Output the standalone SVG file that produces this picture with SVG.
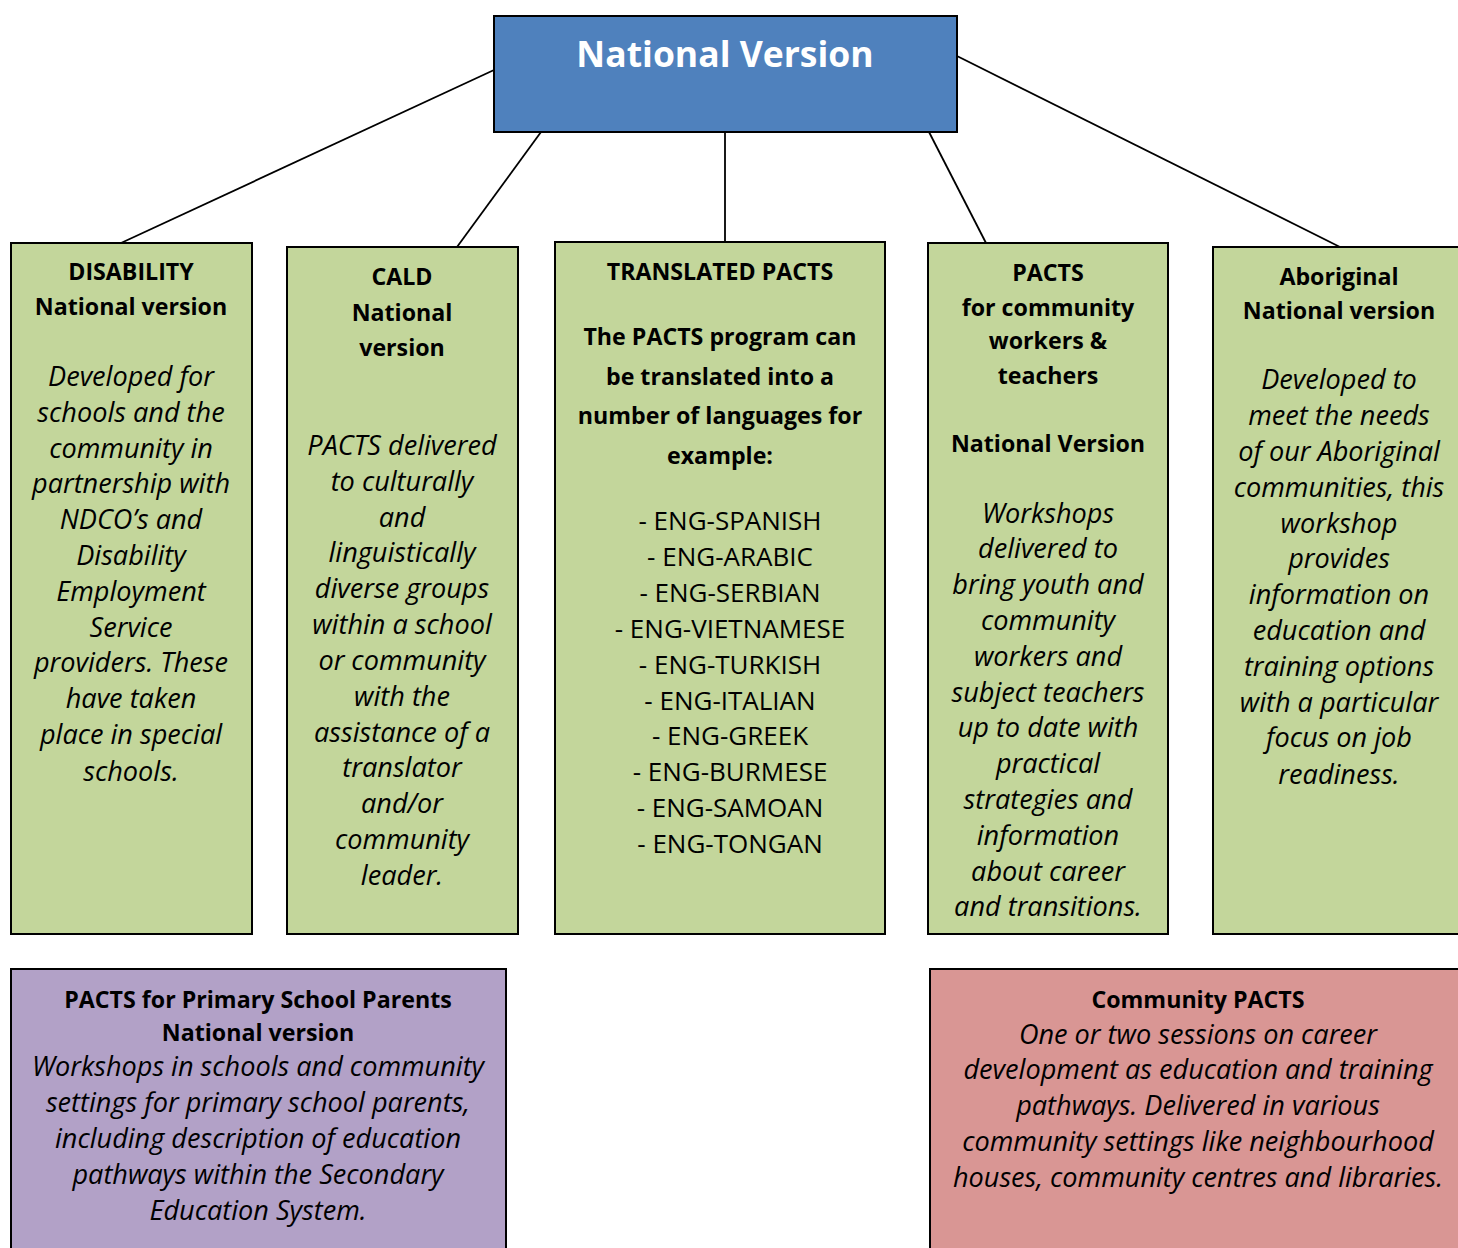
<svg xmlns="http://www.w3.org/2000/svg" width="1458" height="1248" viewBox="0 0 1458 1248">
<style>
.box{stroke:#000;stroke-width:2}
.green{fill:#C3D69B}
.t{font-family:"Open Sans","Liberation Sans",sans-serif;font-size:26px;fill:#000;text-anchor:middle}
.b{font-weight:bold;font-size:23.2px}
.i{font-style:italic;font-size:27.1px}
.conn line{stroke:#000;stroke-width:1.8}
</style>
<rect width="1458" height="1248" fill="#fff"/>
<g class="conn" id="connectors">
<line x1="494" y1="70" x2="121" y2="243"/>
<line x1="541" y1="132" x2="457" y2="247"/>
<line x1="725" y1="132" x2="725" y2="242"/>
<line x1="929" y1="132" x2="986" y2="243"/>
<line x1="957" y1="56" x2="1340" y2="247"/>
</g>
<g id="national">
<rect class="box" x="494" y="16" width="463" height="116" fill="#4F81BD"/>
<text class="t b" x="725" y="67" style="font-size:35.5px;fill:#fff">National Version</text>
</g>
<g id="disability">
<rect class="box green" x="11" y="243" width="241" height="691"/>
<text class="t b" x="131"><tspan x="131" y="280">DISABILITY</tspan><tspan x="131" y="315">National version</tspan></text>
<text class="t i" x="131"><tspan x="131" y="386">Developed for</tspan><tspan x="131" y="422">schools and the</tspan><tspan x="131" y="458">community in</tspan><tspan x="131" y="493">partnership with</tspan><tspan x="131" y="529">NDCO’s and</tspan><tspan x="131" y="565">Disability</tspan><tspan x="131" y="601">Employment</tspan><tspan x="131" y="637">Service</tspan><tspan x="131" y="672">providers. These</tspan><tspan x="131" y="708">have taken</tspan><tspan x="131" y="744">place in special</tspan><tspan x="131" y="781">schools.</tspan></text>
</g>
<g id="cald">
<rect class="box green" x="287" y="247" width="231" height="687"/>
<text class="t b"><tspan x="402" y="285">CALD</tspan><tspan x="402" y="321">National</tspan><tspan x="402" y="356">version</tspan></text>
<text class="t i"><tspan x="402" y="455">PACTS delivered</tspan><tspan x="402" y="491">to culturally</tspan><tspan x="402" y="527">and</tspan><tspan x="402" y="562">linguistically</tspan><tspan x="402" y="598">diverse groups</tspan><tspan x="402" y="634">within a school</tspan><tspan x="402" y="670">or community</tspan><tspan x="402" y="706">with the</tspan><tspan x="402" y="742">assistance of a</tspan><tspan x="402" y="777">translator</tspan><tspan x="402" y="813">and/or</tspan><tspan x="402" y="849">community</tspan><tspan x="402" y="885">leader.</tspan></text>
</g>
<g id="translated">
<rect class="box green" x="555" y="242" width="330" height="692"/>
<text class="t b"><tspan x="720" y="280">TRANSLATED PACTS</tspan><tspan x="720" y="345">The PACTS program can</tspan><tspan x="720" y="385">be translated into a</tspan><tspan x="720" y="424">number of languages for</tspan><tspan x="720" y="464">example:</tspan></text>
<text class="t"><tspan x="730" y="530">-  ENG-SPANISH</tspan><tspan x="730" y="566">-  ENG-ARABIC</tspan><tspan x="730" y="602">-  ENG-SERBIAN</tspan><tspan x="730" y="638">-  ENG-VIETNAMESE</tspan><tspan x="730" y="674">-  ENG-TURKISH</tspan><tspan x="730" y="710">-  ENG-ITALIAN</tspan><tspan x="730" y="745">-  ENG-GREEK</tspan><tspan x="730" y="781">-  ENG-BURMESE</tspan><tspan x="730" y="817">-  ENG-SAMOAN</tspan><tspan x="730" y="853">-  ENG-TONGAN</tspan></text>
</g>
<g id="community-workers">
<rect class="box green" x="928" y="243" width="240" height="691"/>
<text class="t b"><tspan x="1048" y="281">PACTS</tspan><tspan x="1048" y="316">for community</tspan><tspan x="1048" y="349">workers &amp;</tspan><tspan x="1048" y="384">teachers</tspan><tspan x="1048" y="452">National Version</tspan></text>
<text class="t i"><tspan x="1048" y="523">Workshops</tspan><tspan x="1048" y="558">delivered to</tspan><tspan x="1048" y="594">bring youth and</tspan><tspan x="1048" y="630">community</tspan><tspan x="1048" y="666">workers and</tspan><tspan x="1048" y="702">subject teachers</tspan><tspan x="1048" y="737">up to date with</tspan><tspan x="1048" y="773">practical</tspan><tspan x="1048" y="809">strategies and</tspan><tspan x="1048" y="845">information</tspan><tspan x="1048" y="881">about career</tspan><tspan x="1048" y="916">and transitions.</tspan></text>
</g>
<g id="aboriginal">
<rect class="box green" x="1213" y="247" width="250" height="687"/>
<text class="t b"><tspan x="1339" y="285">Aboriginal</tspan><tspan x="1339" y="319">National version</tspan></text>
<text class="t i"><tspan x="1339" y="389">Developed to</tspan><tspan x="1339" y="425">meet the needs</tspan><tspan x="1339" y="461">of our Aboriginal</tspan><tspan x="1339" y="497">communities, this</tspan><tspan x="1339" y="533">workshop</tspan><tspan x="1339" y="568">provides</tspan><tspan x="1339" y="604">information on</tspan><tspan x="1339" y="640">education and</tspan><tspan x="1339" y="676">training options</tspan><tspan x="1339" y="712">with a particular</tspan><tspan x="1339" y="747">focus on job</tspan><tspan x="1339" y="784">readiness.</tspan></text>
</g>
<g id="primary">
<rect class="box" x="11" y="969" width="495" height="290" fill="#B2A1C7"/>
<text class="t b"><tspan x="258" y="1008">PACTS for Primary School Parents</tspan><tspan x="258" y="1041">National version</tspan></text>
<text class="t i"><tspan x="258" y="1076">Workshops in schools and community</tspan><tspan x="258" y="1112">settings for primary school parents,</tspan><tspan x="258" y="1148">including description of education</tspan><tspan x="258" y="1184">pathways within the Secondary</tspan><tspan x="258" y="1220">Education System.</tspan></text>
</g>
<g id="community">
<rect class="box" x="930" y="969" width="540" height="290" fill="#D99694"/>
<text class="t b"><tspan x="1198" y="1008">Community PACTS</tspan></text>
<text class="t i"><tspan x="1198" y="1044">One or two sessions on career</tspan><tspan x="1198" y="1079">development as education and training</tspan><tspan x="1198" y="1115">pathways. Delivered in various</tspan><tspan x="1198" y="1151">community settings like neighbourhood</tspan><tspan x="1198" y="1187">houses, community centres and libraries.</tspan></text>
</g>
</svg>
